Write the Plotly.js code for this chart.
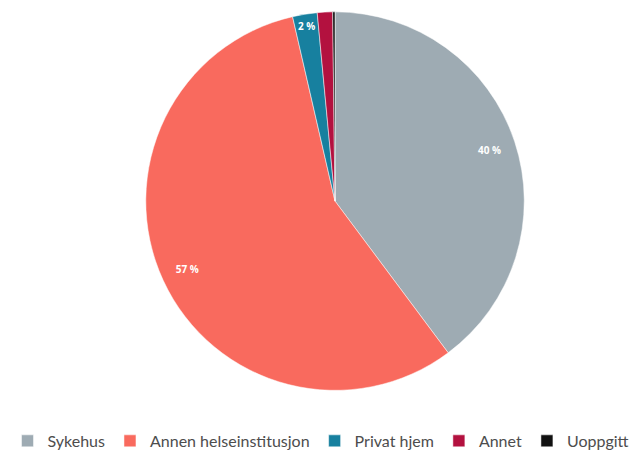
<!DOCTYPE html>
<html>
<head>
<meta charset="utf-8">
<script src="https://cdn.plot.ly/plotly-3.0.1.min.js"></script>
<style>html,body{margin:0;padding:0;background:#fff;}#chart{width:642px;height:458px;}</style>
</head>
<body>
<div id="chart"></div>
<script>
const categories = ["Sykehus", "Annen helseinstitusjon", "Privat hjem", "Annet", "Uoppgitt"];
const values = [39.8, 56.6, 2.1, 1.3, 0.2];
const labelsShown = ["40 %", "57 %", "2 %", "", ""];
const colors = ["#9EABB3", "#F96A5E", "#17809F", "#B3113F", "#111111"];

const dom = {x: [0.2259, 0.8178], y: [0.144, 0.974]};

const pieTrace = {
  type: "pie",
  labels: categories,
  values: values,
  textinfo: "none",
  marker: {colors: colors, line: {color: "#ffffff", width: 0.5}},
  sort: false,
  direction: "clockwise",
  rotation: 0,
  hoverinfo: "none",
  domain: dom
};

// transparent ring carrying the data labels near the outer edge
const labelTrace = {
  type: "pie",
  labels: categories,
  values: values,
  text: labelsShown,
  textinfo: "text",
  textposition: "inside",
  insidetextorientation: "horizontal",
  textfont: {family: "Open Sans, sans-serif", size: 10, color: "#ffffff", weight: "bold"},
  marker: {colors: ["rgba(0,0,0,0)","rgba(0,0,0,0)","rgba(0,0,0,0)","rgba(0,0,0,0)","rgba(0,0,0,0)"], line: {width: 0}},
  hole: 0.72,
  sort: false,
  direction: "clockwise",
  rotation: 0,
  hoverinfo: "none",
  showlegend: false,
  domain: dom
};

const layout = {
  width: 642,
  height: 458,
  margin: {l: 0, r: 0, t: 0, b: 0},
  paper_bgcolor: "#ffffff",
  showlegend: true,
  legend: {
    orientation: "h",
    x: 0.5, xanchor: "center",
    y: 0.033, yanchor: "middle",
    font: {family: "Lato, sans-serif", size: 16, color: "#4d4d4d"},
    itemwidth: 30,
    traceorder: "normal"
  }
};

Plotly.newPlot("chart", [pieTrace, labelTrace], layout, {displayModeBar: false, staticPlot: true});
</script>
</body>
</html>
